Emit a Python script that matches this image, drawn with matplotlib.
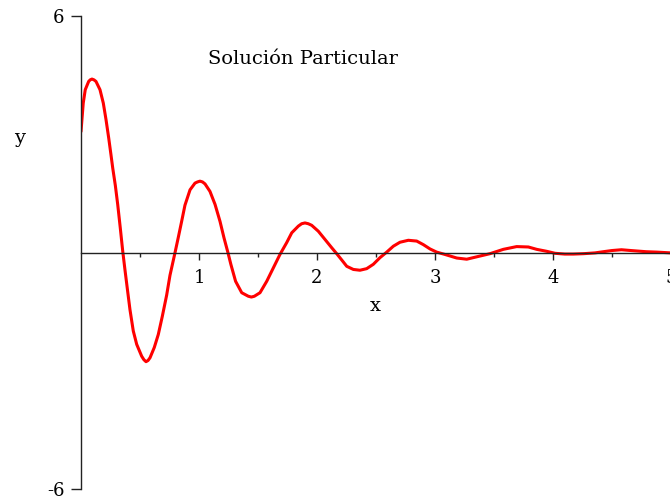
import matplotlib
matplotlib.use("Agg")
import matplotlib.pyplot as plt

# puntos de la solucion particular y(x)
x_vals = [0.000, 0.019, 0.036, 0.065, 0.078, 0.093, 0.110, 0.127, 0.161, 0.189,
          0.212, 0.235, 0.254, 0.269, 0.291, 0.311, 0.333, 0.353, 0.373, 0.396,
          0.415, 0.443, 0.472, 0.514, 0.533, 0.551, 0.568, 0.585, 0.621, 0.655,
          0.689, 0.726, 0.754, 0.797, 0.825, 0.853, 0.881, 0.924, 0.966, 0.987,
          1.008, 1.030, 1.051, 1.093, 1.136, 1.178, 1.212, 1.245, 1.270, 1.310,
          1.362, 1.418, 1.444, 1.469, 1.517, 1.574, 1.630, 1.686, 1.743, 1.786,
          1.842, 1.870, 1.898, 1.926, 1.955, 2.011, 2.068, 2.125, 2.167, 2.215,
          2.252, 2.308, 2.364, 2.421, 2.477, 2.534, 2.591, 2.647, 2.703, 2.774,
          2.845, 2.901, 2.958, 3.014, 3.085, 3.184, 3.269, 3.353, 3.466, 3.579,
          3.692, 3.791, 3.862, 3.947, 4.017, 4.100, 4.172, 4.260, 4.356, 4.426,
          4.500, 4.580, 4.660, 4.790, 4.880, 5.000]
y_vals = [3.07, 3.79, 4.13, 4.34, 4.38, 4.40, 4.38, 4.34, 4.13, 3.79,
          3.37, 2.90, 2.48, 2.14, 1.70, 1.22, 0.62, 0.05, -0.45, -1.00,
          -1.45, -1.99, -2.33, -2.63, -2.72, -2.77, -2.74, -2.67, -2.41, -2.08,
          -1.62, -1.08, -0.58, 0.00, 0.39, 0.79, 1.20, 1.59, 1.76, 1.79,
          1.81, 1.79, 1.74, 1.55, 1.22, 0.79, 0.37, 0.00, -0.30, -0.73,
          -1.02, -1.11, -1.13, -1.11, -1.02, -0.73, -0.39, -0.05, 0.25, 0.50,
          0.67, 0.73, 0.75, 0.73, 0.69, 0.54, 0.33, 0.12, -0.03, -0.21,
          -0.35, -0.43, -0.45, -0.41, -0.30, -0.13, 0.01, 0.16, 0.26, 0.31,
          0.29, 0.20, 0.09, 0.01, -0.05, -0.14, -0.17, -0.11, -0.03, 0.08,
          0.15, 0.14, 0.08, 0.03, -0.02, -0.04, -0.04, -0.03, -0.01, 0.02,
          0.05, 0.07, 0.05, 0.02, 0.01, -0.01]

x_major = [1, 2, 3, 4, 5]
x_minor = [0.5, 1.5, 2.5, 3.5, 4.5]
y_ticks = [-6, 6]

plt.rcParams['font.family'] = ['DejaVu Serif']

fig = plt.figure(figsize=(6.7, 4.97), dpi=100)
ax = fig.add_axes([81 / 670, 8 / 497, 590 / 670, 473 / 497])

ax.plot(x_vals, y_vals, color='#ff0000', linewidth=2.2,
        solid_joinstyle='round', solid_capstyle='round')

ax.set_xlim(0, 5)
ax.set_ylim(-6, 6)

# ejes cruzando en el origen
ax.spines['top'].set_visible(False)
ax.spines['right'].set_visible(False)
ax.spines['bottom'].set_position(('data', 0))
for s in ('left', 'bottom'):
    ax.spines[s].set_linewidth(1.0)
    ax.spines[s].set_color('#222222')
ax.patch.set_visible(False)

ax.set_xticks(x_major)
ax.set_xticklabels([str(v) for v in x_major])
ax.set_xticks(x_minor, minor=True)
ax.set_yticks(y_ticks)
ax.set_yticklabels([str(v) for v in y_ticks])
ax.tick_params(axis='x', which='major', direction='out', length=5, width=1,
               pad=7, labelsize=13, color='#222222')
ax.tick_params(axis='x', which='minor', direction='out', length=3, width=1,
               color='#222222')
ax.tick_params(axis='y', direction='out', length=7, width=1, pad=5,
               labelsize=13, color='#222222')

fig.text(303 / 670, 1 - 59 / 497, 'Solución Particular', fontsize=14,
         ha='center', va='center')
fig.text(375 / 670, 1 - 306 / 497, 'x', fontsize=14, ha='center', va='center')
fig.text(20 / 670, 1 - 138 / 497, 'y', fontsize=14, ha='center', va='center')

fig.savefig('out.png', dpi=100)
